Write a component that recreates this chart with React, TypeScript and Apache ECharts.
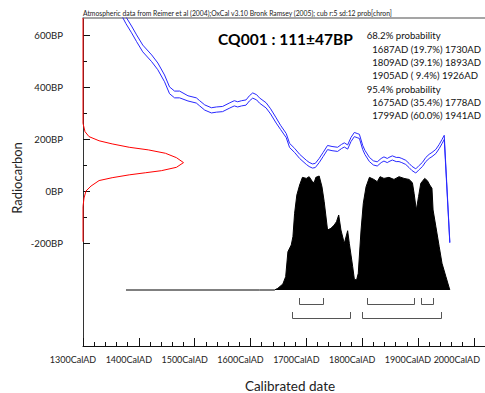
import React, { useEffect, useRef } from "react";
import * as echarts from "echarts";

// Calibration curve (IntCal): calendar year AD, radiocarbon BP, 1-sigma BP
const calYear = [1362,1377,1387,1396,1407,1423,1434,1446,1455,1464,1473,1488,1503,1509,1518,1530,1539,1550,1563,1571,1577,1584,1592,1598,1604,1611,1616,1628,1636,1646,1654,1664,1670,1679,1688,1700,1705,1711,1716,1723,1730,1738,1746,1756,1763,1768,1774,1780,1786,1791,1795,1801,1805,1813,1820,1827,1834,1839,1845,1848,1854,1861,1866,1871,1878,1884,1889,1896,1902,1908,1914,1920,1925,1932,1938,1943,1947,1957];
const calBP = [717,656,621,587,548,510,479,433,387,371,371,356,348,337,321,310,313,315,329,337,333,337,340,356,367,360,348,329,306,271,244,213,175,156,133,110,102,96,98,117,140,167,163,160,171,177,169,198,217,213,210,167,148,121,108,104,117,123,117,121,127,121,121,117,110,98,87,77,90,102,121,133,140,152,171,190,206,-198];
const calSigma = [13,13,13,13,13,13,13,13,13,13,13,10,10,10,10,10,10,10,10,10,10,10,10,10,10,10,10,10,10,10,8,8,8,8,8,8,8,8,8,8,8,8,8,8,8,8,8,8,8,8,8,8,8,8,8,8,8,8,8,8,8,8,8,8,8,8,8,8,8,8,8,8,8,8,8,8,8,2];

// Radiocarbon measurement distribution (relative density vs BP)
const rcBP = [665,300,260,228,209,193,181,168,158,145,128,109,91,78,70,62,51,40,19,0,-27,-60,-195];
const rcDens = [0,0,0,0.02,0.06,0.16,0.29,0.46,0.65,0.82,0.93,1.0,0.93,0.78,0.62,0.46,0.29,0.16,0.08,0.03,0.01,0,0];

// Calibrated probability distribution (relative)
const distYear = [1377,1616,1643,1649,1658,1663,1667,1673,1676,1679,1683,1688,1693,1700,1705,1711,1714,1717,1723,1728,1732,1738,1744,1750,1754,1758,1762,1768,1774,1777,1783,1786,1790,1793,1798,1802,1807,1813,1821,1827,1832,1839,1848,1857,1866,1875,1884,1890,1893,1897,1901,1905,1912,1917,1921,1925,1927,1932,1938,1943,1950,1957];
const distP = [0,0,0,0.015,0.053,0.117,0.336,0.395,0.468,0.673,0.833,0.921,0.988,0.979,0.994,0.950,0.941,0.988,1.0,0.906,0.775,0.526,0.541,0.570,0.599,0.658,0.526,0.409,0.520,0.409,0.205,0.094,0.088,0.146,0.526,0.760,0.906,0.988,0.970,0.950,0.994,0.979,0.988,0.970,0.994,0.979,0.970,0.941,0.848,0.702,0.819,0.936,0.979,0.958,0.921,0.892,0.702,0.556,0.380,0.234,0.117,0];

// Ranges
const range68 = [[1687, 1730], [1809, 1893], [1905, 1926]];
const range95 = [[1675, 1778], [1799, 1941]];

const headerText = "Atmospheric data from Reimer et al (2004);OxCal v3.10 Bronk Ramsey (2005); cub r:5 sd:12 prob[chron]";
const titleText = "CQ001 : 111±47BP";
const probLines = [
  "68.2% probability",
  "  1687AD (19.7%) 1730AD",
  "  1809AD (39.1%) 1893AD",
  "  1905AD ( 9.4%) 1926AD",
  "95.4% probability",
  "  1675AD (35.4%) 1778AD",
  "  1799AD (60.0%) 1941AD",
];
const xTickSuffix = "CalAD";
const yTickSuffix = "BP";
const xName = "Calibrated date";
const yName = "Radiocarbon";

const FONT = "Lato, 'Open Sans', sans-serif";

export default function App() {
  const ref = useRef<HTMLDivElement>(null);
  useEffect(() => {
    if (!ref.current) return;
    const chart = echarts.init(ref.current, null, { renderer: "svg" });
    const redScale = 180; // years of width for peak density
    const redData = rcBP.map((b, i) => [1300 + rcDens[i] * redScale, b]);
    const upper = calYear.map((y, i) => [y, calBP[i] + calSigma[i]]);
    const lower = calYear.map((y, i) => [y, calBP[i] - calSigma[i]]);
    const dist = distYear.map((y, i) => [y, distP[i]]);
    const brackets = [
      ...range68.map((r) => [r[0], r[1], 0]),
      ...range95.map((r) => [r[0], r[1], 1]),
    ];

    const graphicTexts: any[] = [
      {
        type: "text", x: 83, y: 12.7,
        style: { text: headerText, fill: "#222", font: `6.8px ${FONT}`, textVerticalAlign: "middle" },
      },
      {
        type: "text", x: 285.5, y: 39.3,
        style: { text: titleText, fill: "#000", font: `bold 15.5px ${FONT}`, textAlign: "center", textVerticalAlign: "middle" },
      },
      ...probLines.map((t, i) => ({
        type: "text", x: t.startsWith("  ") ? 372.3 : 366.7, y: 35.7 + i * 13.33,
        style: { text: t.trim(), fill: "#111", font: `9.6px ${FONT}`, textVerticalAlign: "middle" },
      })),
      {
        type: "text", x: 17, y: 178, rotation: Math.PI / 2,
        style: { text: yName, fill: "#222", font: `13px ${FONT}`, textAlign: "center", textVerticalAlign: "middle" },
      },
      {
        type: "text", x: 290, y: 386,
        style: { text: xName, fill: "#222", font: `13.5px ${FONT}`, textAlign: "center", textVerticalAlign: "middle" },
      },
    ];

    chart.setOption({
      animation: false,
      backgroundColor: "#fff",
      grid: [
        { left: 83, top: 18, width: 402, height: 328, containLabel: false, outerBoundsMode: "none" },
        { left: 83, top: 35, height: 208, width: 10, containLabel: false, outerBoundsMode: "none" },
      ],
      xAxis: [
        {
          gridIndex: 0, type: "value", min: 1300, max: 2020, interval: 100, position: "bottom",
          axisLine: { show: true, onZero: false, lineStyle: { color: "#111", width: 1 } },
          axisTick: { show: true, inside: true, length: 8, lineStyle: { color: "#111" } },
          minorTick: { show: true, splitNumber: 5, length: 4, lineStyle: { color: "#111" } },
          splitLine: { show: false },
          axisLabel: {
            show: true, margin: 9, color: "#222", fontFamily: FONT, fontSize: 9,
            padding: [0, 20, 0, 0],
            formatter: (v: number) => {
              if (v % 100 !== 0 || v > 2000) return "";
              return v === 2000 ? `{e|${v}${xTickSuffix}}` : v + xTickSuffix;
            },
            rich: { e: { fontFamily: FONT, fontSize: 9, color: "#222", padding: [0, 14, 0, 0] } },
          },
        },
        {
          gridIndex: 0, type: "value", min: 1300, max: 2020, position: "top",
          axisLine: { show: true, onZero: false, lineStyle: { color: "#888", width: 1.5 } },
          axisTick: { show: false }, axisLabel: { show: false }, splitLine: { show: false },
        },
        { gridIndex: 1, type: "value", min: 0, max: 1, show: false },
      ],
      yAxis: [
        {
          gridIndex: 0, type: "value", min: -596, max: 665,
          axisLine: { show: true, onZero: false, lineStyle: { color: "#333", width: 1 } },
          axisTick: { show: false }, axisLabel: { show: false }, splitLine: { show: false },
        },
        { gridIndex: 0, type: "value", min: -0.4912, max: 2.386, show: false },
        {
          gridIndex: 1, type: "value", min: -200, max: 600, interval: 200,
          axisLine: { show: false },
          axisTick: { show: true, inside: true, length: 7, lineStyle: { color: "#111" } },
          minorTick: { show: true, splitNumber: 2, length: 4, lineStyle: { color: "#111" } },
          splitLine: { show: false },
          axisLabel: {
            show: true, margin: 20, color: "#222", fontFamily: FONT, fontSize: 9.6,
            formatter: (v: number) => v + yTickSuffix,
          },
        },
      ],
      graphic: graphicTexts,
      series: [
        {
          type: "line", xAxisIndex: 0, yAxisIndex: 1, data: dist, showSymbol: false,
          lineStyle: { color: "#000", width: 1 }, areaStyle: { color: "#000", opacity: 1 },
          z: 2,
        },
        {
          type: "custom", xAxisIndex: 0, yAxisIndex: 1, data: brackets,
          encode: { x: [0, 1], y: 2 },
          renderItem: (params: any, api: any) => {
            const s = api.value(0), e = api.value(1), lvl = api.value(2);
            const p1 = api.coord([s, 0]);
            const p2 = api.coord([e, 0]);
            const yLine = Math.round(p1[1] + (lvl === 0 ? 14 : 27.7)) + 0.5;
            const yTop = yLine - 6.5;
            return {
              type: "polyline",
              shape: { points: [[Math.round(p1[0]) + 0.5, yTop], [Math.round(p1[0]) + 0.5, yLine], [Math.round(p2[0]) + 0.5, yLine], [Math.round(p2[0]) + 0.5, yTop]] },
              style: { stroke: "#555", fill: null, lineWidth: 1 },
            };
          },
          z: 3,
        },
        {
          type: "line", xAxisIndex: 0, yAxisIndex: 0, data: upper, showSymbol: false,
          lineStyle: { color: "#2828ff", width: 1 }, z: 4,
        },
        {
          type: "line", xAxisIndex: 0, yAxisIndex: 0, data: lower, showSymbol: false,
          lineStyle: { color: "#2828ff", width: 1 }, z: 4,
        },
        {
          type: "line", xAxisIndex: 0, yAxisIndex: 0, data: redData, showSymbol: false,
          lineStyle: { color: "#ff0000", width: 1 }, z: 5,
        },
      ],
    });
    return () => chart.dispose();
  }, []);
  return (
    <div
      ref={ref}
      style={{ position: "fixed", left: 0, top: 0, width: 485, height: 393, background: "#fff" }}
    />
  );
}
